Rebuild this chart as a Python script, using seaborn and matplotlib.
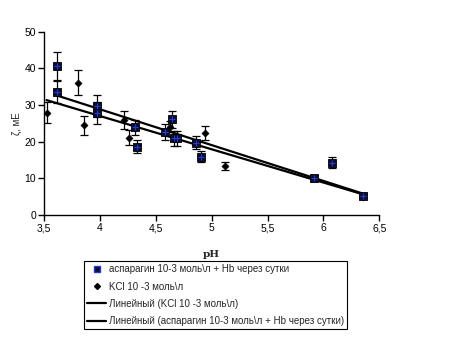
import numpy as np
import pandas as pd
import matplotlib
matplotlib.use('Agg')
import matplotlib.pyplot as plt
import seaborn as sns
from matplotlib.lines import Line2D
from matplotlib.ticker import FuncFormatter

# asparagine 10-3 mol/l + Hb after a day (squares)
asp_ph = [3.616, 3.616, 3.97, 3.97, 4.31, 4.33, 4.58, 4.64, 4.66, 4.69, 4.855, 4.905, 5.915, 6.08, 6.35]
asp_z = [40.6, 33.6, 29.7, 27.7, 23.9, 18.6, 22.7, 26.1, 20.9, 20.9, 19.7, 15.9, 10.0, 14.3, 5.3]
asp_err = [3.8, 3.0, 3.0, 3.0, 2.0, 1.8, 2.2, 2.4, 2.0, 2.0, 1.8, 1.5, 0.8, 1.5, 0.6]

# KCl 10-3 mol/l (diamonds)
kcl_ph = [3.52, 3.80, 3.86, 4.21, 4.26, 4.63, 4.94, 5.115, 6.35]
kcl_z = [27.9, 36.1, 24.5, 25.9, 21.1, 24.1, 22.4, 13.4, 5.0]
kcl_err = [2.8, 3.5, 2.6, 2.4, 2.0, 1.5, 2.0, 1.1, 0.5]

lbl_asp = 'аспарагин 10-3 моль\\л + Hb через сутки'
lbl_kcl = 'KCl 10 -3 моль\\л'
lbl_lin_kcl = 'Линейный (KCl 10 -3 моль\\л)'
lbl_lin_asp = 'Линейный (аспарагин 10-3 моль\\л + Hb через сутки)'

asp_df = pd.DataFrame({'pH': asp_ph, 'z': asp_z})
kcl_df = pd.DataFrame({'pH': kcl_ph, 'z': kcl_z})

sns.set_style('white')
plt.rcParams['font.family'] = ['Liberation Sans', 'DejaVu Sans']

fig = plt.figure(figsize=(4.56, 3.43), dpi=100)
ax = fig.add_axes([0.0971, 0.3732, 0.7347, 0.5344])

# trend lines
sns.regplot(data=kcl_df, x='pH', y='z', scatter=False, ci=None, truncate=True,
            line_kws={'color': 'black', 'lw': 1.6}, ax=ax)
sns.regplot(data=asp_df, x='pH', y='z', scatter=False, ci=None, truncate=True,
            line_kws={'color': 'black', 'lw': 1.6}, ax=ax)

# error bars
ax.errorbar(asp_ph, asp_z, yerr=asp_err, fmt='none', ecolor='black', elinewidth=0.9, capsize=3, capthick=0.9)
ax.errorbar(kcl_ph, kcl_z, yerr=kcl_err, fmt='none', ecolor='black', elinewidth=0.9, capsize=3, capthick=0.9)

# markers
sns.scatterplot(data=kcl_df, x='pH', y='z', marker='D', s=14, color='black', edgecolor='black', ax=ax, zorder=4)
sns.scatterplot(data=asp_df, x='pH', y='z', marker='s', s=32, color='#0b0b33', edgecolor='black', linewidth=0.6, ax=ax, zorder=5)
sns.scatterplot(data=asp_df, x='pH', y='z', marker='+', s=14, color='#1f3fd0', linewidth=0.8, ax=ax, zorder=6)

ax.set_xlim(3.5, 6.5)
ax.set_ylim(0, 50)
ax.set_xticks([3.5, 4, 4.5, 5, 5.5, 6, 6.5])
ax.set_yticks([0, 10, 20, 30, 40, 50])
ax.xaxis.set_major_formatter(FuncFormatter(lambda v, p: ('%g' % v).replace('.', ',')))
ax.tick_params(axis='both', direction='out', length=4, width=1, labelsize=7.5, pad=2,
               bottom=True, left=True, colors='black')
for s in ['top', 'right']:
    ax.spines[s].set_visible(False)
for s in ['left', 'bottom']:
    ax.spines[s].set_color('black')
    ax.spines[s].set_linewidth(1)

ax.set_xlabel('pH', family='DejaVu Serif', fontweight='bold', fontsize=7.5, labelpad=12)
ax.set_ylabel('ζ, мЕ', fontsize=7, labelpad=2)

handles = [
    Line2D([], [], marker='s', ls='none', color='#0b0b33', markeredgecolor='#1f3fd0', markersize=5),
    Line2D([], [], marker='D', ls='none', color='black', markersize=3),
    Line2D([], [], color='black', lw=1.6),
    Line2D([], [], color='black', lw=1.6),
]
leg = fig.legend(handles, [lbl_asp, lbl_kcl, lbl_lin_kcl, lbl_lin_asp],
                 loc='upper left', bbox_to_anchor=(0.184, 0.238), fontsize=7,
                 frameon=True, fancybox=False, framealpha=1, edgecolor='black',
                 borderpad=0.3, labelspacing=0.75, handlelength=2.0, handletextpad=0.3,
                 borderaxespad=0)
leg.get_frame().set_linewidth(0.8)

fig.savefig('out.png', dpi=100)
